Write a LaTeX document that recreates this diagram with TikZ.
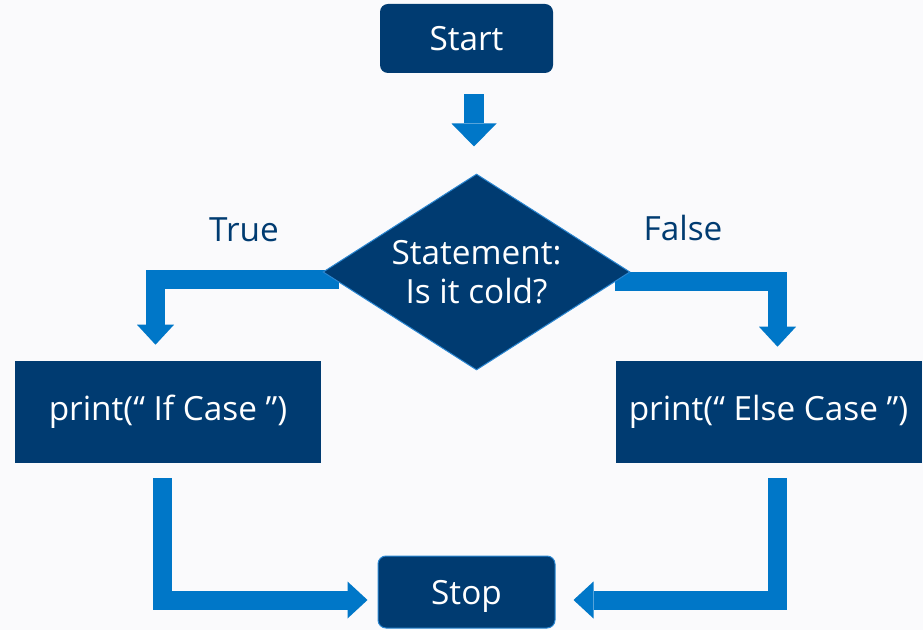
\documentclass[tikz,border=0pt]{standalone}
\usepackage{fontspec}
\setmainfont{Open Sans}
\usetikzlibrary{shapes.geometric,arrows.meta}
\definecolor{navy}{HTML}{003B71}
\definecolor{flowblue}{HTML}{0077C8}
\definecolor{paper}{HTML}{FAFAFC}
\definecolor{rim}{HTML}{2A86D1}
\pgfdeclarelayer{back}
\pgfdeclarelayer{links}
\pgfsetlayers{back,links,main}
\tikzset{
  txt/.style={font=\fontsize{25}{29.25}\selectfont},
  term/.style={txt, fill=navy, text=white, rounded corners=6pt, minimum width=129.75pt, minimum height=51.75pt},
  task/.style={txt, fill=navy, text=white, inner sep=0pt, minimum width=229.5pt, minimum height=75.75pt},
  test/.style={txt, diamond, draw=rim, line width=0.75pt, fill=navy, text=white, align=center, aspect=1.566, inner sep=0pt, minimum width=230.25pt, minimum height=147pt},
  flow/.style={draw=flowblue, line width=14.25pt, -{Triangle[width=27.75pt,length=15pt,line width=0pt]}},
  lbl/.style={txt, text=navy}
}
\begin{document}
\begin{tikzpicture}[x=0.75pt, y=-0.75pt]
\begin{pgfonlayer}{back}
    \fill[paper](0,0) rectangle (923,630);
\end{pgfonlayer}
\useasboundingbox (0,0) rectangle (923,630);

\node[term] (start) at (466.5,38.5) {Start};
\node[test] (dec) at (476.5,272) {Statement:\\Is it cold?};
\node[task] (ifbox) at (168,412) {print(“ If Case ”)};
\node[task] (elsebox) at (768.5,412) {print(“ Else Case ”)};
\node[term, draw=rim, line width=0.75pt, minimum width=132.75pt, minimum height=54pt, text height=24pt, text depth=6pt] (stop) at (466.5,592) {Stop};
\node[lbl] (yes) at (244,230) {True};
\node[lbl] (no) at (683,228) {False};

\begin{pgfonlayer}{links}
    \draw[flow, line width=15pt, -{Triangle[width=33.75pt,length=17.25pt,line width=0pt]}]([shift={(7.5,21)}]start.south)--([shift={(-2.5,-27)}]dec.north);
    \draw[flow]([shift={(16,8)}]dec.west)-|([shift={(-12.5,-16.5)}]ifbox.north);
    \draw[flow]([shift={(-16,9.5)}]dec.east)-|([shift={(9,-14.5)}]elsebox.north);
    \draw[flow]([shift={(-5.5,15.5)}]ifbox.south)|-([shift={(-10,8)}]stop.west);
    \draw[flow]([shift={(9,15.5)}]elsebox.south)|-([shift={(18,8)}]stop.east);
\end{pgfonlayer}

\end{tikzpicture}
\end{document}
